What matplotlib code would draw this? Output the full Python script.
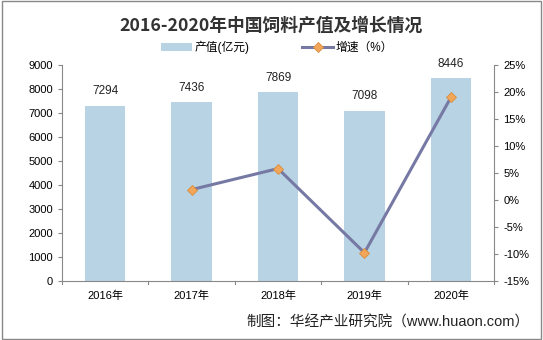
import numpy as np
import matplotlib.pyplot as plt
from matplotlib.patches import Rectangle

plt.rcParams['font.family'] = ['Liberation Sans', 'Noto Sans CJK SC']

# data
years = ['2016年', '2017年', '2018年', '2019年', '2020年']
output_value = [7294, 7436, 7869, 7098, 8446]
growth_years = ['2017年', '2018年', '2019年', '2020年']
growth_rate = [1.9, 5.8, -9.8, 19.0]

bar_color = '#b8d3e4'
line_color = '#7579a3'
marker_color = '#f2a65a'

fig = plt.figure(figsize=(5.43, 3.40), dpi=100)
fig.patches.append(Rectangle((0.003, 0.004), 0.994, 0.992, transform=fig.transFigure,
                             fill=False, edgecolor='#888888', linewidth=1.0))

ax = fig.add_axes([0.114, 0.174, 0.796, 0.635])
x = np.arange(len(years))
bars = ax.bar(x, output_value, width=0.47, color=bar_color, label='产值(亿元)', zorder=2)
for xi, v in zip(x, output_value):
    ax.text(xi, v + 350, str(v), ha='center', va='bottom', fontsize=8.5, color='#222222')

ax.set_ylim(0, 9000)
ax.set_yticks(range(0, 9001, 1000))
ax.set_xlim(-0.5, len(years) - 0.5)
ax.set_xticks(x)
ax.set_xticklabels(years, fontsize=8)
ax.tick_params(axis='y', labelsize=8, length=3, color='#888888')
ax.tick_params(axis='x', length=0, pad=7)
for s in ['top', 'right']:
    ax.spines[s].set_visible(False)
for s in ['left', 'bottom']:
    ax.spines[s].set_color('#888888')
# category dividers on the x axis
for b in np.arange(-0.5, len(years) + 0.5, 1):
    ax.plot([b, b], [0, -120], color='#888888', lw=0.8, clip_on=False)

ax2 = ax.twinx()
gx = [years.index(g) for g in growth_years]
ax2.plot(gx, growth_rate, color=line_color, lw=2.2, marker='D', markersize=5,
         markerfacecolor=marker_color, markeredgecolor='#d98c3c', markeredgewidth=0.6,
         label='增速（%）', zorder=3)
ax2.set_ylim(-15, 25)
ax2.set_yticks(range(-15, 26, 5))
ax2.set_yticklabels([f'{t}%' for t in range(-15, 26, 5)])
ax2.tick_params(axis='y', labelsize=8, length=3, color='#888888')
for s in ['top', 'left', 'bottom']:
    ax2.spines[s].set_visible(False)
ax2.spines['right'].set_color('#888888')

fig.text(0.5, 0.925, '2016-2020年中国饲料产值及增长情况', ha='center', va='center',
         fontsize=12.8, fontweight='bold', color='#333333',
         family=['Noto Sans CJK SC', 'DejaVu Sans'])

h1, l1 = ax.get_legend_handles_labels()
h2, l2 = ax2.get_legend_handles_labels()
fig.legend(h1 + h2, l1 + l2, loc='center', bbox_to_anchor=(0.51, 0.86), ncol=2,
           frameon=False, fontsize=8.5, handlelength=2.6, columnspacing=4.5,
           handletextpad=0.2)

fig.text(0.975, 0.05, '制图：华经产业研究院（www.huaon.com）', ha='right', va='center',
         fontsize=10.5, color='#222222')

fig.savefig('out.png', dpi=100)
